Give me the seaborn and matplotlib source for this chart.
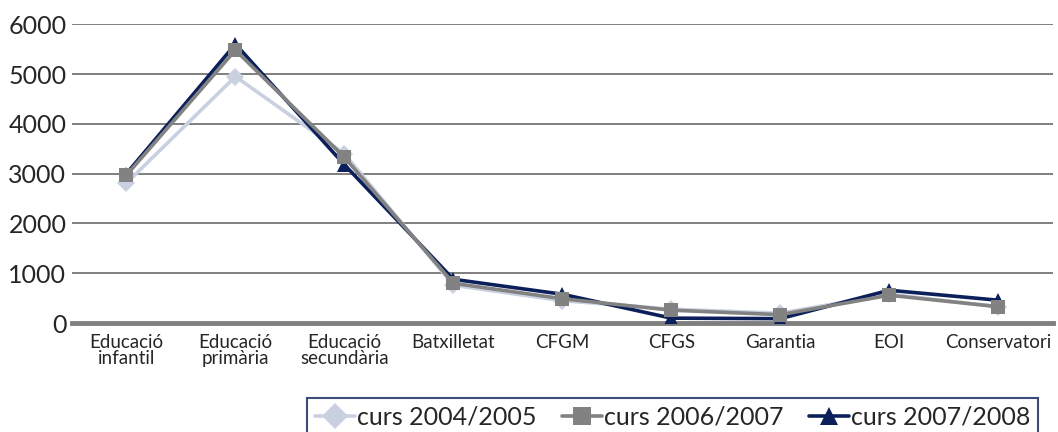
import pandas as pd
import seaborn as sns
import numpy as np
import matplotlib.pyplot as plt
from matplotlib.lines import Line2D

sns.set_style('white')
plt.rcParams['font.family'] = ['Lato', 'DejaVu Sans']

NIVELLS = ['Educació\ninfantil', 'Educació\nprimària', 'Educació\nsecundària',
           'Batxilletat', 'CFGM', 'CFGS', 'Garantia', 'EOI', 'Conservatori']
CURS_0405 = [2810, 4950, 3400, 760, 450, 280, 200, 580, 330]
CURS_0607 = [2970, 5480, 3330, 800, 490, 260, 170, 560, 330]
CURS_0708 = [3000, 5600, 3180, 880, 580, 100, 90, 660, 460]
CURSOS = ['curs 2004/2005', 'curs 2006/2007', 'curs 2007/2008']

COLORS = {'curs 2004/2005': '#c9d1e1', 'curs 2006/2007': '#828282', 'curs 2007/2008': '#0b1f5a'}
MARKERS = {'curs 2004/2005': 'D', 'curs 2006/2007': 's', 'curs 2007/2008': '^'}
GREY = '#7f7f7f'


def build_frame():
    rows = []
    for curs, vals in zip(CURSOS, [CURS_0405, CURS_0607, CURS_0708]):
        for i, v in enumerate(vals):
            rows.append([i, curs, v])
    return pd.DataFrame(rows, columns=['pos', 'curs', 'alumnes'])


def main():
    df = build_frame()

    fig = plt.figure(figsize=(10.58, 4.32), dpi=100)
    ax = fig.add_axes([0.068, 0.252, 0.927, 0.692])

    # draw order: 2004, 2007, then 2006 on top
    for curs in ['curs 2004/2005', 'curs 2007/2008', 'curs 2006/2007']:
        sub = df[df.curs == curs]
        sns.lineplot(data=sub, x='pos', y='alumnes', color=COLORS[curs],
                     marker=MARKERS[curs], markersize=10 if curs != 'curs 2004/2005' else 9,
                     markeredgewidth=0, linewidth=2.6, ax=ax, legend=False)

    ax.set_xlim(-0.5, len(NIVELLS) - 0.5)
    ax.set_ylim(0, 6000)
    ax.set_yticks(np.arange(0, 6001, 1000))
    ax.set_xticks(range(len(NIVELLS)))
    ax.set_xticklabels(NIVELLS, fontsize=13.5, linespacing=0.9)
    ax.set_xticks(np.arange(-0.5, len(NIVELLS), 1), minor=True)
    ax.tick_params(axis='x', which='major', length=0, pad=8)
    ax.tick_params(axis='x', which='minor', direction='in', length=11, width=3, color=GREY)
    ax.tick_params(axis='y', length=0, pad=4, labelsize=18)
    ax.set_xlabel('')
    ax.set_ylabel('')

    ax.yaxis.grid(True, color=GREY, linewidth=1.4)
    ax.set_axisbelow(True)
    for s in ['top', 'right', 'left']:
        ax.spines[s].set_visible(False)
    ax.spines['bottom'].set_color(GREY)
    ax.spines['bottom'].set_linewidth(3.5)
    ax.spines['bottom'].set_zorder(0.5)

    handles = [Line2D([], [], color=COLORS[c], marker=MARKERS[c], markersize=13,
                      markeredgewidth=0, linewidth=2.6) for c in CURSOS]
    leg = fig.legend(handles, CURSOS, loc='upper right', bbox_to_anchor=(0.981, 0.079),
                     ncol=3, fontsize=18, frameon=True, fancybox=False,
                     handlelength=1.6, handletextpad=0.1, columnspacing=1.0,
                     borderpad=0.3, borderaxespad=0)
    leg.get_frame().set_edgecolor('#0b1f5a')
    leg.get_frame().set_linewidth(1.5)

    fig.savefig('out.png', dpi=100)


if __name__ == '__main__':
    main()
